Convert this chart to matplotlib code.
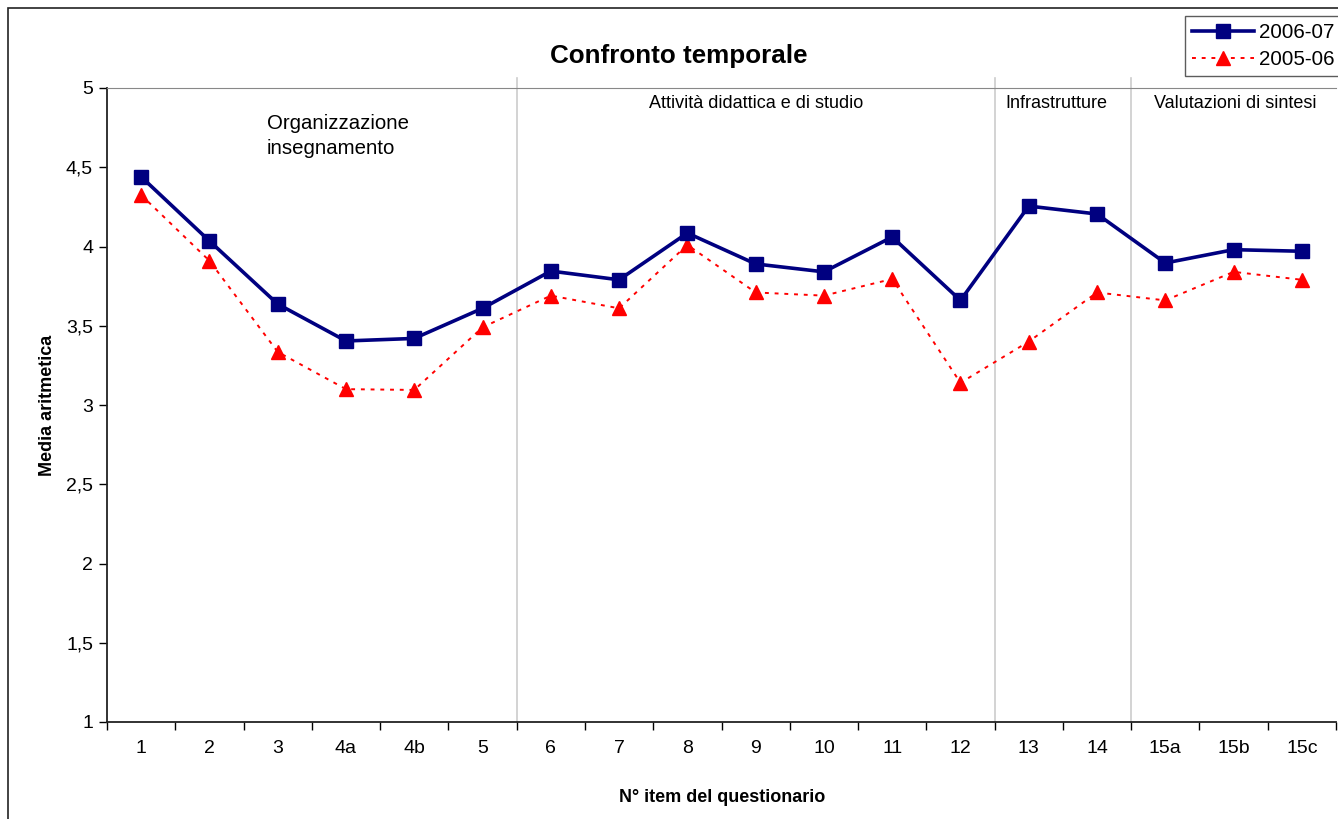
import matplotlib
matplotlib.use("Agg")
import matplotlib.pyplot as plt
from matplotlib.patches import Rectangle

plt.rcParams['font.family'] = ['Liberation Sans', 'DejaVu Sans']

categories = ['1', '2', '3', '4a', '4b', '5', '6', '7', '8', '9', '10', '11', '12',
              '13', '14', '15a', '15b', '15c']
s_2006_07 = [4.44, 4.035, 3.637, 3.404, 3.42, 3.61, 3.845, 3.79, 4.085, 3.89, 3.84,
             4.06, 3.66, 4.255, 4.205, 3.896, 3.98, 3.97]
s_2005_06 = [4.325, 3.91, 3.335, 3.10, 3.095, 3.49, 3.69, 3.61, 4.01, 3.71, 3.69,
             3.795, 3.14, 3.40, 3.71, 3.66, 3.84, 3.79]
y_ticks = [1, 1.5, 2, 2.5, 3, 3.5, 4, 4.5, 5]
y_tick_labels = ['1', '1,5', '2', '2,5', '3', '3,5', '4', '4,5', '5']
sections = ['Organizzazione\ninsegnamento', 'Attività didattica e di studio',
            'Infrastrutture', 'Valutazioni di sintesi']
section_bounds = [6, 13, 15]  # category boundaries where separators are drawn

W, H = 1338, 819
fig = plt.figure(figsize=(W / 100, H / 100), dpi=100)
# outer frame
fig.patches.append(Rectangle((8 / W, -0.01), 1.1, 1 - 8 / H + 0.01, transform=fig.transFigure,
                             fill=False, edgecolor='#222222', linewidth=1.2))

ax = fig.add_axes([107 / W, 1 - 722 / H, (1336 - 107) / W, (722 - 88) / H])
n = len(categories)
x = [i + 0.5 for i in range(n)]

ax.plot(x, s_2006_07, color='#000080', linewidth=2.6, marker='s', markersize=9.5,
        label='2006-07', zorder=4)
ax.plot(x, s_2005_06, color='#ff0000', linewidth=1.4, linestyle=(0, (2, 3)), marker='^',
        markersize=9.5, label='2005-06', zorder=3)

for b in section_bounds:
    ax.plot([b, b], [1, 5.065], color='#cccccc', linewidth=1.2, clip_on=False, zorder=1)

ax.set_xlim(0, n)
ax.set_ylim(1, 5)
ax.set_yticks(y_ticks)
ax.set_yticklabels(y_tick_labels, fontsize=14)
ax.set_xticks(range(n + 1))
ax.set_xticklabels([])
ax.set_xticks(x, minor=True)
ax.set_xticklabels(categories, minor=True, fontsize=14)
ax.tick_params(axis='x', which='minor', length=0, pad=13)
ax.tick_params(axis='x', which='major', length=6, direction='out', width=1)
ax.tick_params(axis='y', length=6, direction='out', width=1, pad=4)

for s in ['left', 'bottom']:
    ax.spines[s].set_color('#222222')
    ax.spines[s].set_linewidth(1.3)
ax.spines['top'].set_color('#888888')
ax.spines['right'].set_visible(False)

# section labels
ax.text(2.34, 4.695, sections[0], fontsize=14.7, ha='left', va='center', linespacing=1.38)
ax.text(9.5, 4.9, sections[1], fontsize=13, ha='center', va='center')
ax.text(13.9, 4.9, sections[2], fontsize=13, ha='center', va='center')
ax.text(16.52, 4.9, sections[3], fontsize=13, ha='center', va='center')

fig.text(679 / W, 1 - 56 / H, 'Confronto temporale', fontsize=18.7, fontweight='bold',
         ha='center', va='center')
fig.text(47 / W, 1 - 405 / H, 'Media aritmetica', fontsize=13, fontweight='bold',
         rotation=90, ha='center', va='center')
fig.text(722 / W, 1 - 797 / H, 'N° item del questionario', fontsize=13, fontweight='bold',
         ha='center', va='center')

leg = fig.legend(loc='upper left', bbox_to_anchor=(1185 / W, 1 - 16 / H), fontsize=14.8,
                 frameon=True, fancybox=False, edgecolor='#333333', handlelength=3.0,
                 borderpad=0.35, labelspacing=0.38, handletextpad=0.25, borderaxespad=0)
leg.get_frame().set_linewidth(1.0)

fig.savefig('out.png', dpi=100)
